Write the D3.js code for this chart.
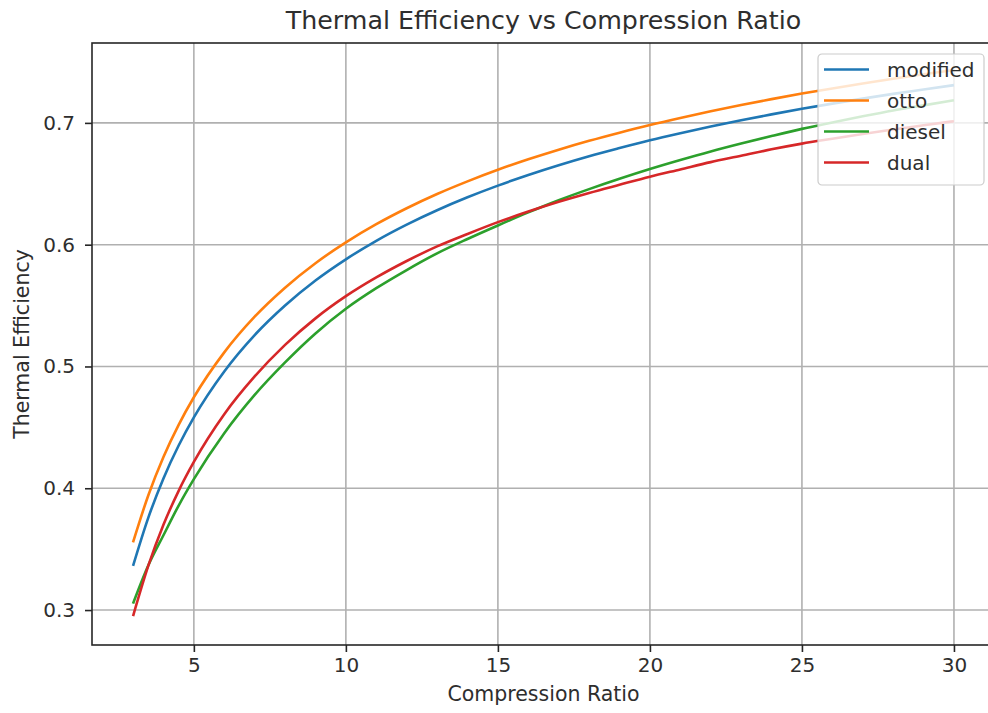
<!DOCTYPE html>
<html lang="en">
<head>
<meta charset="utf-8">
<script src="https://d3js.org/d3.v7.min.js"></script>
<style>
  body { margin: 0; background: #fff; overflow: hidden; }
  svg { font-family: "DejaVu Sans", sans-serif; display: block; }
</style>
</head>
<body>
<div id="chart"></div>
<script>
// compression ratios sampled along the curves
var ratios = [3, 3.5, 4, 4.5, 5, 6, 7, 8, 9, 10, 11, 12, 13, 14, 15, 16, 17, 18, 19, 20,
              21, 22, 23, 24, 25, 26, 27, 28, 29, 30];

// efficiencies
var modified = [0.3363, 0.3757, 0.4081, 0.4351, 0.4582, 0.4959, 0.5258, 0.5501, 0.5706, 0.5880,
                0.6032, 0.6165, 0.6283, 0.6389, 0.6485, 0.6572, 0.6652, 0.6726, 0.6793, 0.6857,
                0.6915, 0.6970, 0.7021, 0.7070, 0.7116, 0.7158, 0.7199, 0.7238, 0.7274, 0.7310];
var otto = [0.3556, 0.3941, 0.4257, 0.4521, 0.4747, 0.5116, 0.5409, 0.5647, 0.5848, 0.6019,
            0.6168, 0.6299, 0.6416, 0.6520, 0.6615, 0.6701, 0.6780, 0.6853, 0.6920, 0.6983,
            0.7041, 0.7096, 0.7147, 0.7195, 0.7241, 0.7283, 0.7324, 0.7363, 0.7399, 0.7435];
var diesel = [0.3053, 0.3365, 0.3614, 0.3858, 0.4075, 0.4452, 0.4766, 0.5033, 0.5271, 0.5474,
              0.5643, 0.5792, 0.5929, 0.6047, 0.6158, 0.6265, 0.6365, 0.6456, 0.6541, 0.6621,
              0.6695, 0.6765, 0.6830, 0.6892, 0.6951, 0.7003, 0.7054, 0.7102, 0.7144, 0.7186];
var dual = [0.2950, 0.3362, 0.3700, 0.3979, 0.4216, 0.4608, 0.4918, 0.5177, 0.5395, 0.5577,
            0.5731, 0.5866, 0.5986, 0.6088, 0.6185, 0.6272, 0.6352, 0.6425, 0.6492, 0.6558,
            0.6618, 0.6678, 0.6730, 0.6783, 0.6830, 0.6870, 0.6909, 0.6946, 0.6980, 0.7014];

var seriesNames = ["modified", "otto", "diesel", "dual"];
var seriesColors = ["#1f77b4", "#ff7f0e", "#2ca02c", "#d62728"];
var xTicks = [5, 10, 15, 20, 25, 30];
var yTicks = [0.3, 0.4, 0.5, 0.6, 0.7];

var W = 988, H = 713;
// the axes run a bit past the right edge of the picture (cropped there)
var m = {left: 92, right: -7, top: 43, bottom: 68};
var axRight = W - m.right;
var ink = "#2e2e2e";

var svg = d3.select("#chart").append("svg")
    .attr("width", W).attr("height", H);

var x = d3.scaleLinear().domain([1.65, 31.35]).range([m.left, axRight]);
var y = d3.scaleLinear().domain([0.2713, 0.7656]).range([H - m.bottom, m.top]);

// grid
svg.append("g").selectAll("line").data(xTicks).join("line")
    .attr("x1", d => x(d)).attr("x2", d => x(d))
    .attr("y1", m.top).attr("y2", H - m.bottom)
    .attr("stroke", "#b0b0b0").attr("stroke-width", 1.6);
svg.append("g").selectAll("line").data(yTicks).join("line")
    .attr("y1", d => y(d)).attr("y2", d => y(d))
    .attr("x1", m.left).attr("x2", axRight)
    .attr("stroke", "#b0b0b0").attr("stroke-width", 1.6);

// axes
var xAxis = svg.append("g")
    .attr("transform", "translate(0," + (H - m.bottom) + ")")
    .call(d3.axisBottom(x).tickValues(xTicks).tickSize(7).tickPadding(6).tickSizeOuter(0));
var yAxis = svg.append("g")
    .attr("transform", "translate(" + m.left + ",0)")
    .call(d3.axisLeft(y).tickValues(yTicks).tickFormat(d3.format(".1f")).tickSize(7).tickPadding(10).tickSizeOuter(0));
[xAxis, yAxis].forEach(function (g) {
    g.selectAll("text").attr("font-size", 20).attr("fill", ink)
        .attr("font-family", "DejaVu Sans, sans-serif");
    g.selectAll("line").attr("stroke", "#262626").attr("stroke-width", 1.6);
    g.select(".domain").remove();
});

// lines
var line = d3.line().x(d => x(d[0])).y(d => y(d[1])).curve(d3.curveMonotoneX);
var allSeries = [modified, otto, diesel, dual];
allSeries.forEach(function (vals, i) {
    svg.append("path")
        .datum(ratios.map((r, j) => [r, vals[j]]))
        .attr("d", line)
        .attr("fill", "none")
        .attr("stroke", seriesColors[i])
        .attr("stroke-width", 2.6);
});

// frame
svg.append("rect")
    .attr("x", m.left).attr("y", m.top)
    .attr("width", axRight - m.left).attr("height", H - m.bottom - m.top)
    .attr("fill", "none").attr("stroke", "#262626").attr("stroke-width", 1.6);

// titles
var cx = (m.left + axRight) / 2;
svg.append("text").attr("x", cx).attr("y", 29)
    .attr("text-anchor", "middle").attr("font-size", 25.3).attr("fill", ink)
    .text("Thermal Efficiency vs Compression Ratio");
svg.append("text").attr("x", cx).attr("y", 701)
    .attr("text-anchor", "middle").attr("font-size", 20.5).attr("fill", ink)
    .text("Compression Ratio");
svg.append("text")
    .attr("transform", "translate(29," + ((m.top + H - m.bottom) / 2) + ") rotate(-90)")
    .attr("text-anchor", "middle").attr("font-size", 20.5).attr("fill", ink)
    .text("Thermal Efficiency");

// legend
var lg = svg.append("g").attr("transform", "translate(818,54)");
lg.append("rect").attr("width", 166).attr("height", 131).attr("rx", 4)
    .attr("fill", "white").attr("fill-opacity", 0.8)
    .attr("stroke", "#cccccc").attr("stroke-width", 1.2);
seriesNames.forEach(function (name, i) {
    var ly = 15.5 + i * 31;
    lg.append("line").attr("x1", 6).attr("x2", 51).attr("y1", ly).attr("y2", ly)
        .attr("stroke", seriesColors[i]).attr("stroke-width", 2.6);
    lg.append("text").attr("x", 69).attr("y", ly + 7)
        .attr("font-size", 20).attr("fill", ink).text(name);
});
</script>
</body>
</html>
